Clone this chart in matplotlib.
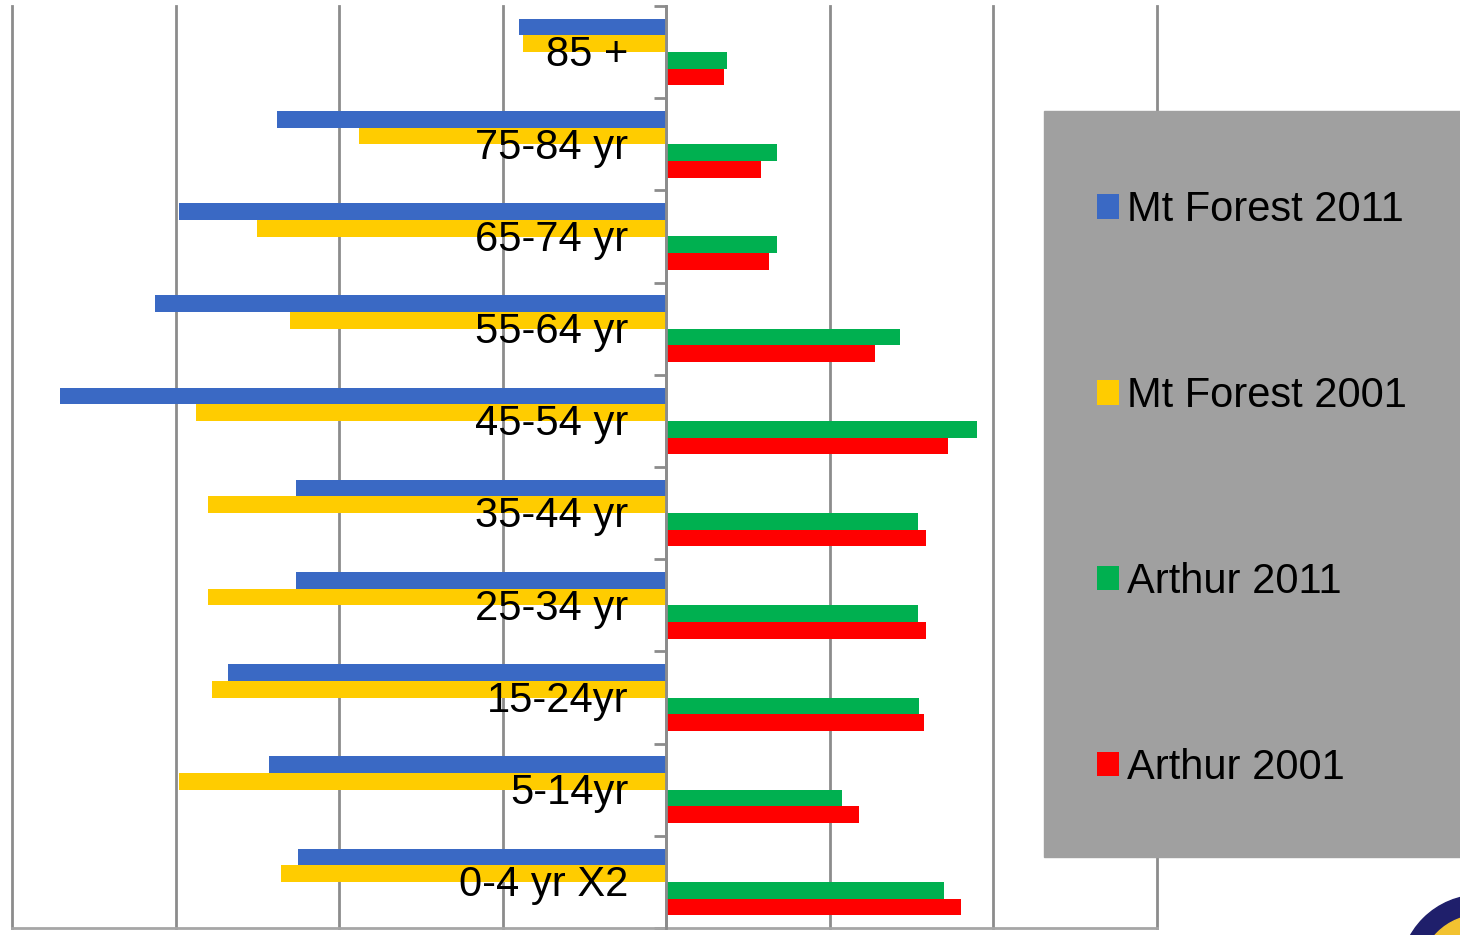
import matplotlib.pyplot as plt
from matplotlib.patches import Rectangle, Circle
import numpy as np

plt.rcParams['font.family'] = ['Liberation Sans', 'DejaVu Sans']

# age groups, bottom to top
ages = ['0-4 yr X2', '5-14yr', '15-24yr', '25-34 yr', '35-44 yr',
        '45-54 yr', '55-64 yr', '65-74 yr', '75-84 yr', '85 +']

# Mt Forest shown on the left (negative), Arthur on the right
mtf_2011 = [-2.253, -2.428, -2.679, -2.265, -2.265, -3.704, -3.127, -2.979, -2.377, -0.902]
mtf_2001 = [-2.353, -2.979, -2.779, -2.803, -2.803, -2.876, -2.302, -2.502, -1.880, -0.877]
art_2011 = [1.698, 1.075, 1.548, 1.538, 1.538, 1.898, 1.426, 0.676, 0.676, 0.374]
art_2001 = [1.800, 1.177, 1.574, 1.588, 1.588, 1.725, 1.275, 0.625, 0.576, 0.350]

series = [('Mt Forest 2011', mtf_2011, '#3A69C4'),
          ('Mt Forest 2001', mtf_2001, '#FFCC00'),
          ('Arthur 2011', art_2011, '#00B050'),
          ('Arthur 2001', art_2001, '#FF0000')]

W, H = 1460, 935
fig = plt.figure(figsize=(W / 100, H / 100), dpi=100)
ax = fig.add_axes([12 / W, (H - 928) / H, (1157 - 12) / W, (928 - 6) / H])

y = np.arange(len(ages))
h = 0.181
offsets = [1.5 * h, 0.5 * h, -0.5 * h, -1.5 * h]
handles = []
for (name, vals, col), off in zip(series, offsets):
    b = ax.barh(y + off, vals, height=h, color=col, label=name, zorder=2)
    handles.append(b)

ax.set_xlim(-4, 3)
ax.set_ylim(-0.5, len(ages) - 0.5)

# vertical gridlines
ax.set_xticks(np.arange(-4, 4))
ax.tick_params(axis='x', length=0, labelbottom=False)
ax.grid(axis='x', color='#8C8C8C', linewidth=2, zorder=0)
for gl in ax.get_xgridlines():
    gl.set_clip_on(False)
ax.set_axisbelow(True)

# category axis sits at zero
for s in ['top', 'right']:
    ax.spines[s].set_visible(False)
ax.spines['left'].set_position(('data', 0))
ax.spines['left'].set_color('#8C8C8C')
ax.spines['left'].set_linewidth(2)
ax.spines['left'].set_zorder(3)
ax.spines['bottom'].set_color('#A6A6A6')
ax.spines['bottom'].set_linewidth(2)

ax.set_yticks(y, [])
ax.set_yticks(np.arange(-0.5, len(ages)), minor=True)
ax.tick_params(axis='y', which='major', length=0)
ax.tick_params(axis='y', which='minor', length=9, width=2, color='#8C8C8C', direction='out')

# age labels sit over the bars, just left of the zero line
for yi, lab in zip(y, ages):
    ax.text(-0.232, yi - 0.156, lab, ha='right', va='baseline', fontsize=30, zorder=5)

# grey legend panel
fig.patches.append(Rectangle((1044 / W, (H - 857) / H), (W - 1044) / W, (857 - 111) / H,
                             transform=fig.transFigure, color='#A0A0A0', zorder=0))
fig.legend(handles=handles, loc='center left',
           bbox_to_anchor=(1097 / W, 1 - 489 / H), frameon=False,
           fontsize=30, handlelength=0.53, handleheight=0.53, handletextpad=0.2,
           labelspacing=3.5, borderpad=0, borderaxespad=0)

# corner emblem
fig.patches.append(Circle((14.8, -0.4), 0.8, transform=fig.dpi_scale_trans,
                          color='#1F1F6B', zorder=1))
fig.patches.append(Circle((14.8, -0.4), 0.6, transform=fig.dpi_scale_trans,
                          color='#F2C230', zorder=1))

fig.savefig('out.png', dpi=100)
